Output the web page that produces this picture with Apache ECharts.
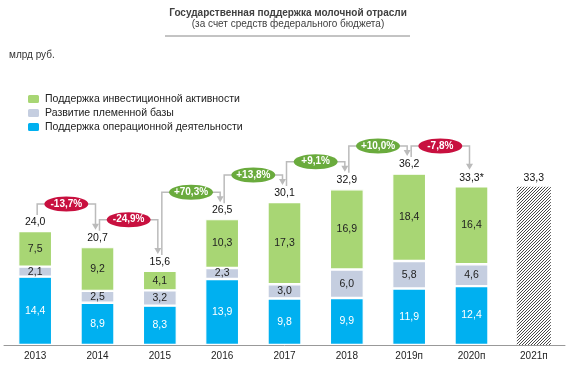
<!DOCTYPE html>
<html>
<head>
<meta charset="utf-8">
<script src="https://cdn.jsdelivr.net/npm/echarts@6/dist/echarts.min.js"></script>
<style>html,body{margin:0;padding:0;background:#fff}#c{width:576px;height:384px}</style>
</head>
<body>
<div id="c"></div>
<script>
const categories = ['2013','2014','2015','2016','2017','2018','2019п','2020п','2021п'];
const operational = [14.4, 8.9, 8.3, 13.9, 9.8, 9.9, 11.9, 12.4, null];
const breeding = [2.1, 2.5, 3.2, 2.3, 3.0, 6.0, 5.8, 4.6, null];
const investment = [7.5, 9.2, 4.1, 10.3, 17.3, 16.9, 18.4, 16.4, null];
const forecast = [null, null, null, null, null, null, null, null, 33.3];
const totals = [24.0, 20.7, 15.6, 26.5, 30.1, 32.9, 36.2, 33.3, 33.3];
const totalLabels = ['24,0','20,7','15,6','26,5','30,1','32,9','36,2','33,3*','33,3'];
const changes = ['-13,7%','-24,9%','+70,3%','+13,8%','+9,1%','+10,0%','-7,8%'];

const FONT = 'Liberation Sans, Arial, sans-serif';
const chart = echarts.init(document.getElementById('c'), null, {renderer:'canvas'});

const pc = document.createElement('canvas');
pc.width = 3; pc.height = 3;
const g = pc.getContext('2d');
g.fillStyle = '#fff'; g.fillRect(0,0,3,3);
g.strokeStyle = '#333'; g.lineWidth = 0.9;
g.beginPath();
g.moveTo(0,3); g.lineTo(3,0);
g.moveTo(-1,1); g.lineTo(1,-1);
g.moveTo(2,4); g.lineTo(4,2);
g.stroke();

const fmt = v => v.toFixed(1).replace('.', ',');
const seg = (name, data, color, labelColor) => ({
  name, type:'bar', stack:'a', data, barWidth:34,
  itemStyle:{color, borderColor:'#fff', borderWidth:1.2},
  label:{show:true, position:'inside', color:labelColor, fontSize:10.5, fontFamily:FONT,
    formatter:p => fmt(p.value)}
});

const connectorData = changes.map((c, i) => [i, totals[i], totals[i+1], c]);
const totalData = totals.map((t, i) => [i, t, totalLabels[i]]);

chart.setOption({
  animation:false,
  title:{text:'Государственная поддержка молочной отрасли', subtext:'(за счет средств федерального бюджета)',
    left:'center', top:3, itemGap:1,
    textStyle:{fontSize:10, fontWeight:'bold', color:'#404040', fontFamily:FONT},
    subtextStyle:{fontSize:10, color:'#404040', fontFamily:FONT}},
  graphic:[
    {type:'line', shape:{x1:165, y1:36, x2:410, y2:36}, style:{stroke:'#888', lineWidth:1}},
    {type:'text', left:9, top:50, style:{text:'млрд руб.', fontSize:10, fill:'#333', fontFamily:FONT}}
  ],
  legend:{orient:'vertical', left:21, top:88, itemWidth:13, itemHeight:10, itemGap:2,
    data:['Поддержка инвестиционной активности','Развитие племенной базы','Поддержка операционной деятельности'],
    textStyle:{fontSize:10.5, color:'#222', fontFamily:FONT}, selectedMode:false},
  grid:{left:4, right:11, top:155, bottom:39},
  xAxis:{type:'category', data:categories,
    axisLine:{lineStyle:{color:'#999', width:1}}, axisTick:{show:false},
    axisLabel:{fontSize:10, color:'#222', margin:6, fontFamily:FONT}},
  yAxis:{type:'value', min:0, max:40, show:false, splitLine:{show:false}},
  series:[
    seg('Поддержка операционной деятельности', operational, '#00B0F0', '#fff'),
    seg('Развитие племенной базы', breeding, '#C5CEE0', '#222'),
    seg('Поддержка инвестиционной активности', investment, '#A8D674', '#222'),
    {name:'forecast', type:'bar', stack:'a', data:forecast, barWidth:34,
      itemStyle:{color:{image:pc, repeat:'repeat'}}},
    {type:'custom', data:totalData, z:5,
      renderItem:(params, api) => {
        const p = api.coord([api.value(0), api.value(1)]);
        return {type:'text', x:p[0], y:p[1]-9,
          style:{text:totalLabels[params.dataIndex], align:'center', verticalAlign:'middle',
            fontSize:10.5, fill:'#111', fontFamily:FONT}};
      }},
    {type:'custom', data:connectorData, z:6,
      renderItem:(params, api) => {
        const i = api.value(0);
        const a = api.coord([i, api.value(1)]);
        const b = api.coord([i+1, api.value(2)]);
        const x1 = a[0] + 2, y1 = a[1] - 16;
        const x2 = b[0] - 2, y2 = b[1] - 17;
        const lvl = Math.min(a[1], b[1]) - 27;
        const txt = changes[params.dataIndex];
        const col = txt[0] === '-' ? '#C8103F' : '#6AAB3D';
        const mx = (x1 + x2) / 2;
        return {type:'group', children:[
          {type:'polyline', shape:{points:[[x1,y1],[x1,lvl],[x2,lvl],[x2,y2-5]]},
            style:{stroke:'#BBBBBB', lineWidth:1.5, fill:null}},
          {type:'polygon', shape:{points:[[x2-3.5,y2-6],[x2+3.5,y2-6],[x2,y2]]},
            style:{fill:'#BBBBBB'}},
          {type:'ellipse', shape:{cx:mx, cy:lvl, rx:22, ry:7.5}, style:{fill:col}},
          {type:'text', x:mx, y:lvl, style:{text:txt, align:'center', verticalAlign:'middle',
            fontSize:10, fontWeight:'bold', fill:'#fff', fontFamily:FONT}}
        ]};
      }}
  ]
});
</script>
</body>
</html>
